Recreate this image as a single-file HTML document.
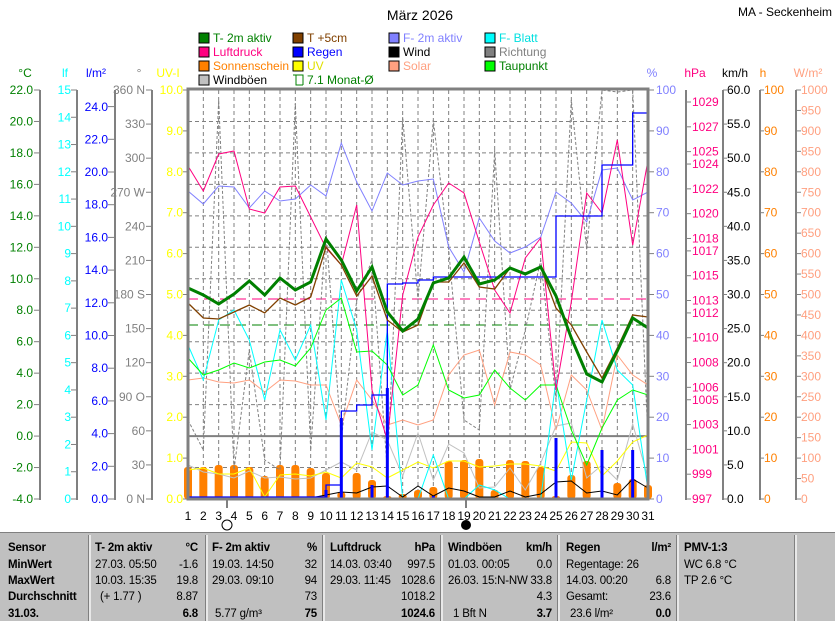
<!DOCTYPE html>
<html><head><meta charset="utf-8"><style>
body{margin:0;background:#fff;width:835px;height:620px;overflow:hidden;font-family:"Liberation Sans",sans-serif}
svg text{font-family:"Liberation Sans",sans-serif;font-size:12px}
#tbl{position:absolute;left:0;top:532px;width:835px;height:88px;background:#c0c0c0;border-top:1px solid #808080}
#tbl div{position:absolute;font-size:11.5px;letter-spacing:-0.2px;white-space:nowrap;line-height:16px}
.b{font-weight:bold}
.sep{position:absolute;top:2px;width:2px;height:86px;background:#e8e8e8;border-left:1px solid #808080}
</style></head><body>
<svg id="s" width="835" height="532" style="position:absolute;left:0;top:0">
<text x="420" y="20" text-anchor="middle" style="font-size:14px">März 2026</text>
<text x="832" y="16" text-anchor="end">MA - Seckenheim</text>
<g stroke="#000" stroke-width="1">
<rect x="199" y="33" width="10" height="10" fill="#008000"/><rect x="293" y="33" width="10" height="10" fill="#804000"/><rect x="389" y="33" width="10" height="10" fill="#8080ff"/><rect x="485" y="33" width="10" height="10" fill="#00ffff"/>
<rect x="199" y="47" width="10" height="10" fill="#ff0080"/><rect x="293" y="47" width="10" height="10" fill="#0000ff"/><rect x="389" y="47" width="10" height="10" fill="#000"/><rect x="485" y="47" width="10" height="10" fill="#808080"/>
<rect x="199" y="61" width="10" height="10" fill="#ff8000"/><rect x="293" y="61" width="10" height="10" fill="#ffff00"/><rect x="389" y="61" width="10" height="10" fill="#ffa080"/><rect x="485" y="61" width="10" height="10" fill="#00ff00"/>
<rect x="199" y="75" width="10" height="10" fill="#c0c0c0"/>
</g>
<path d="M296 75 v10 h7 M293 75 h10 v10" stroke="#008000" fill="none"/>
<text x="213" y="42" fill="#008000">T- 2m aktiv</text><text x="307" y="42" fill="#804000">T +5cm</text><text x="403" y="42" fill="#8080ff">F- 2m aktiv</text><text x="499" y="42" fill="#00e0e0">F- Blatt</text>
<text x="213" y="56" fill="#ff0080">Luftdruck</text><text x="307" y="56" fill="#0000ff">Regen</text><text x="403" y="56">Wind</text><text x="499" y="56" fill="#808080">Richtung</text>
<text x="213" y="70" fill="#ff8000">Sonnenschein</text><text x="307" y="70" fill="#e0e000">UV</text><text x="403" y="70" fill="#ffa080">Solar</text><text x="499" y="70" fill="#008000">Taupunkt</text>
<text x="213" y="84">Windböen</text><text x="307" y="84" fill="#008000">7.1 Monat-Ø</text>
<text x="25" y="77" text-anchor="middle" fill="#008000">°C</text>
<text x="65" y="77" text-anchor="middle" fill="#00ffff">lf</text>
<text x="96" y="77" text-anchor="middle" fill="#0000ff">l/m²</text>
<text x="139" y="77" text-anchor="middle" fill="#808080">°</text>
<text x="168" y="77" text-anchor="middle" fill="#ffff00">UV-I</text>
<text x="652" y="77" text-anchor="middle" fill="#8080ff">%</text>
<text x="695" y="77" text-anchor="middle" fill="#ff0080">hPa</text>
<text x="735" y="77" text-anchor="middle">km/h</text>
<text x="763" y="77" text-anchor="middle" fill="#ff8000">h</text>
<text x="808" y="77" text-anchor="middle" fill="#ffa080">W/m²</text>
<g id="grid"></g>
<g id="axes" stroke="#808080" stroke-width="2" fill="none">
<line x1="40" y1="90" x2="40" y2="500"/><line x1="77" y1="90" x2="77" y2="500"/><line x1="115" y1="90" x2="115" y2="500"/><line x1="152" y1="90" x2="152" y2="500"/>
<line x1="686" y1="90" x2="686" y2="500"/><line x1="723" y1="90" x2="723" y2="500"/><line x1="760" y1="90" x2="760" y2="500"/><line x1="796" y1="90" x2="796" y2="500"/>
</g>
<g id="ticks" stroke="#808080" stroke-width="1"></g>
<g fill="#008000" text-anchor="end">
<text x="33" y="94">22.0</text><text x="33" y="125.5">20.0</text><text x="33" y="157">18.0</text><text x="33" y="188.4">16.0</text><text x="33" y="219.8">14.0</text><text x="33" y="251.3">12.0</text><text x="33" y="282.8">10.0</text><text x="33" y="314.2">8.0</text><text x="33" y="345.7">6.0</text><text x="33" y="377.1">4.0</text><text x="33" y="408.6">2.0</text><text x="33" y="440">0.0</text><text x="33" y="471.5">-2.0</text><text x="33" y="503">-4.0</text></g>
<g fill="#00ffff" text-anchor="end">
<text x="71" y="94">15</text><text x="71" y="121.3">14</text><text x="71" y="148.5">13</text><text x="71" y="175.8">12</text><text x="71" y="203.1">11</text><text x="71" y="230.3">10</text><text x="71" y="257.6">9</text><text x="71" y="284.9">8</text><text x="71" y="312.1">7</text><text x="71" y="339.4">6</text><text x="71" y="366.7">5</text><text x="71" y="393.9">4</text><text x="71" y="421.2">3</text><text x="71" y="448.5">2</text><text x="71" y="475.7">1</text><text x="71" y="503">0</text></g>
<g fill="#0000ff" text-anchor="end">
<text x="108" y="111">24.0</text><text x="108" y="143.3">22.0</text><text x="108" y="176">20.0</text><text x="108" y="208.7">18.0</text><text x="108" y="241.4">16.0</text><text x="108" y="274.1">14.0</text><text x="108" y="306.8">12.0</text><text x="108" y="339.5">10.0</text><text x="108" y="372.2">8.0</text><text x="108" y="404.9">6.0</text><text x="108" y="437.6">4.0</text><text x="108" y="470.3">2.0</text><text x="108" y="503">0.0</text></g>
<g fill="#808080" text-anchor="end">
<text x="145" y="94">360 N</text><text x="145" y="128.1">330</text><text x="145" y="162.2">300</text><text x="145" y="196.3">270 W</text><text x="145" y="230.3">240</text><text x="145" y="264.4">210</text><text x="145" y="298.5">180 S</text><text x="145" y="332.6">150</text><text x="145" y="366.7">120</text><text x="145" y="400.8">90 O</text><text x="145" y="434.8">60</text><text x="145" y="468.9">30</text><text x="145" y="503">0 N</text></g>
<g fill="#ffff00" text-anchor="end">
<text x="183" y="94">10.0</text><text x="183" y="134.9">9.0</text><text x="183" y="175.8">8.0</text><text x="183" y="216.7">7.0</text><text x="183" y="257.6">6.0</text><text x="183" y="298.5">5.0</text><text x="183" y="339.4">4.0</text><text x="183" y="380.3">3.0</text><text x="183" y="421.2">2.0</text><text x="183" y="462.1">1.0</text><text x="183" y="503">0.0</text></g>
<g fill="#8080ff">
<text x="656" y="94">100</text><text x="656" y="134.9">90</text><text x="656" y="175.8">80</text><text x="656" y="216.7">70</text><text x="656" y="257.6">60</text><text x="656" y="298.5">50</text><text x="656" y="339.4">40</text><text x="656" y="380.3">30</text><text x="656" y="421.2">20</text><text x="656" y="462.1">10</text><text x="656" y="503">0</text></g>
<g fill="#ff0080">
<text x="692" y="106">1029</text><text x="692" y="130.8">1027</text><text x="692" y="155.6">1025</text><text x="692" y="168">1024</text><text x="692" y="192.9">1022</text><text x="692" y="217.7">1020</text><text x="692" y="242.5">1018</text><text x="692" y="254.9">1017</text><text x="692" y="279.7">1015</text><text x="692" y="304.5">1013</text><text x="692" y="316.9">1012</text><text x="692" y="341.7">1010</text><text x="692" y="366.5">1008</text><text x="692" y="391.3">1006</text><text x="692" y="403.8">1005</text><text x="692" y="428.6">1003</text><text x="692" y="453.4">1001</text><text x="692" y="478.2">999</text><text x="692" y="503">997</text></g>
<g fill="#000">
<text x="727" y="94">60.0</text><text x="727" y="128.1">55.0</text><text x="727" y="162.2">50.0</text><text x="727" y="196.3">45.0</text><text x="727" y="230.3">40.0</text><text x="727" y="264.4">35.0</text><text x="727" y="298.5">30.0</text><text x="727" y="332.6">25.0</text><text x="727" y="366.7">20.0</text><text x="727" y="400.8">15.0</text><text x="727" y="434.8">10.0</text><text x="727" y="468.9">5.0</text><text x="727" y="503">0.0</text></g>
<g fill="#ff8000">
<text x="764" y="94">100</text><text x="764" y="134.9">90</text><text x="764" y="175.8">80</text><text x="764" y="216.7">70</text><text x="764" y="257.6">60</text><text x="764" y="298.5">50</text><text x="764" y="339.4">40</text><text x="764" y="380.3">30</text><text x="764" y="421.2">20</text><text x="764" y="462.1">10</text><text x="764" y="503">0</text></g>
<g fill="#ffa080">
<text x="801" y="94">1000</text><text x="801" y="114.5">950</text><text x="801" y="134.9">900</text><text x="801" y="155.4">850</text><text x="801" y="175.8">800</text><text x="801" y="196.3">750</text><text x="801" y="216.7">700</text><text x="801" y="237.2">650</text><text x="801" y="257.6">600</text><text x="801" y="278.1">550</text><text x="801" y="298.5">500</text><text x="801" y="319">450</text><text x="801" y="339.4">400</text><text x="801" y="359.9">350</text><text x="801" y="380.3">300</text><text x="801" y="400.8">250</text><text x="801" y="421.2">200</text><text x="801" y="441.7">150</text><text x="801" y="462.1">100</text><text x="801" y="482.6">50</text><text x="801" y="503">0</text></g>
<g text-anchor="middle">
<text x="188" y="520">1</text><text x="203.3" y="520">2</text><text x="218.7" y="520">3</text><text x="234" y="520">4</text><text x="249.3" y="520">5</text><text x="264.7" y="520">6</text><text x="280" y="520">7</text><text x="295.3" y="520">8</text><text x="310.7" y="520">9</text><text x="326" y="520">10</text><text x="341.3" y="520">11</text><text x="356.7" y="520">12</text><text x="372" y="520">13</text><text x="387.3" y="520">14</text><text x="402.7" y="520">15</text><text x="418" y="520">16</text><text x="433.3" y="520">17</text><text x="448.7" y="520">18</text><text x="464" y="520">19</text><text x="479.3" y="520">20</text><text x="494.7" y="520">21</text><text x="510" y="520">22</text><text x="525.3" y="520">23</text><text x="540.7" y="520">24</text><text x="556" y="520">25</text><text x="571.3" y="520">26</text><text x="586.7" y="520">27</text><text x="602" y="520">28</text><text x="617.3" y="520">29</text><text x="632.7" y="520">30</text><text x="648" y="520">31</text></g>
<line x1="227" y1="500" x2="227" y2="508" stroke="#000"/><circle cx="227" cy="525" r="5" fill="#fff" stroke="#000"/>
<line x1="466" y1="500" x2="466" y2="508" stroke="#000"/><circle cx="466" cy="525" r="5" fill="#000"/>
<g id="data"></g>
<rect x="188" y="89" width="460" height="410" fill="none" stroke="#808080" stroke-width="3"/>
</svg>
<div id="tbl">
<div class="sep" style="left:88px"></div><div class="sep" style="left:205px"></div><div class="sep" style="left:322px"></div><div class="sep" style="left:440px"></div><div class="sep" style="left:557px"></div><div class="sep" style="left:676px"></div><div class="sep" style="left:794px"></div>
<div class="b" style="left:8px;top:7px">Sensor</div><div class="b" style="left:8px;top:24px">MinWert</div><div class="b" style="left:8px;top:40px">MaxWert</div><div class="b" style="left:8px;top:56px">Durchschnitt</div><div class="b" style="left:8px;top:73px">31.03.</div>
<div class="b" style="left:95px;top:7px">T- 2m aktiv</div><div class="b" style="right:637px;top:7px">°C</div>
<div style="left:95px;top:24px">27.03. 05:50</div><div style="right:637px;top:24px">-1.6</div>
<div style="left:95px;top:40px">10.03. 15:35</div><div style="right:637px;top:40px">19.8</div>
<div style="left:100px;top:56px">(+ 1.77 )</div><div style="right:637px;top:56px">8.87</div>
<div class="b" style="right:637px;top:73px">6.8</div>
<div class="b" style="left:212px;top:7px">F- 2m aktiv</div><div class="b" style="right:518px;top:7px">%</div>
<div style="left:212px;top:24px">19.03. 14:50</div><div style="right:518px;top:24px">32</div>
<div style="left:212px;top:40px">29.03. 09:10</div><div style="right:518px;top:40px">94</div>
<div style="right:518px;top:56px">73</div>
<div style="left:215px;top:73px">5.77 g/m³</div><div class="b" style="right:518px;top:73px">75</div>
<div class="b" style="left:330px;top:7px">Luftdruck</div><div class="b" style="right:400px;top:7px">hPa</div>
<div style="left:330px;top:24px">14.03. 03:40</div><div style="right:400px;top:24px">997.5</div>
<div style="left:330px;top:40px">29.03. 11:45</div><div style="right:400px;top:40px">1028.6</div>
<div style="right:400px;top:56px">1018.2</div>
<div class="b" style="right:400px;top:73px">1024.6</div>
<div class="b" style="left:448px;top:7px">Windböen</div><div class="b" style="right:283px;top:7px">km/h</div>
<div style="left:448px;top:24px">01.03. 00:05</div><div style="right:283px;top:24px">0.0</div>
<div style="left:448px;top:40px">26.03. 15:N-NW</div><div style="right:283px;top:40px">33.8</div>
<div style="right:283px;top:56px">4.3</div>
<div style="left:453px;top:73px">1 Bft N</div><div class="b" style="right:283px;top:73px">3.7</div>
<div class="b" style="left:566px;top:7px">Regen</div><div class="b" style="right:164px;top:7px">l/m²</div>
<div style="left:566px;top:24px">Regentage: 26</div>
<div style="left:566px;top:40px">14.03. 00:20</div><div style="right:164px;top:40px">6.8</div>
<div style="left:566px;top:56px">Gesamt:</div><div style="right:164px;top:56px">23.6</div>
<div style="left:570px;top:73px">23.6 l/m²</div><div class="b" style="right:164px;top:73px">0.0</div>
<div class="b" style="left:684px;top:7px">PMV-1:3</div>
<div style="left:684px;top:24px">WC 6.8 °C</div>
<div style="left:684px;top:40px">TP 2.6 °C</div>
</div>
<script>
var NS="http://www.w3.org/2000/svg";
function el(p,n,a){var e=document.createElementNS(NS,n);for(var k in a)e.setAttribute(k,a[k]);p.appendChild(e);return e;}
var X=[];for(var i=0;i<31;i++)X.push(188+i*460/30);
var g=document.getElementById('grid');
for(var i=1;i<31;i++)el(g,'line',{x1:X[i],y1:90,x2:X[i],y2:499,stroke:'#808080','stroke-dasharray':'4,3'});
for(var k=1;k<13;k++){var y=90+k*409/13;if(k==11)el(g,'line',{x1:188,y1:y,x2:648,y2:y,stroke:'#808080','stroke-width':2});else el(g,'line',{x1:188,y1:y,x2:648,y2:y,stroke:'#808080','stroke-dasharray':'4,3'});}
var t=document.getElementById('ticks');
function ticks(x,dx,ys){ys.forEach(function(y){el(t,'line',{x1:x,y1:y,x2:x+dx,y2:y});});}
function rng(a,b,n){var r=[];for(var i=0;i<n;i++)r.push(a+(b-a)*i/(n-1));return r;}
ticks(40,-6,rng(90,499,14));ticks(77,-6,rng(90,499,16));ticks(115,-7,rng(106.6,499,13));ticks(152,-6,rng(90,499,13));ticks(188,-5,rng(90,499,11));
ticks(648,6,rng(90,499,11));
[1029,1027,1025,1024,1022,1020,1018,1017,1015,1013,1012,1010,1008,1006,1005,1003,1001,999,997].forEach(function(p){var y=499-(p-997)*12.406;el(t,'line',{x1:686,y1:y,x2:691,y2:y});});
ticks(723,4,rng(90,499,13));ticks(760,4,rng(90,499,11));ticks(796,5,rng(90,499,21));
var d=document.getElementById('data');
function line(ys,c,w,da){var p=ys.map(function(y,i){return X[i].toFixed(1)+','+y}).join(' ');var a={points:p,fill:'none',stroke:c,'stroke-width':w||1};if(da)a['stroke-dasharray']=da;el(d,'polyline',a);}
el(d,'line',{x1:188,y1:299,x2:648,y2:299,stroke:'#ff0080','stroke-dasharray':'10,6'});
el(d,'line',{x1:188,y1:325,x2:648,y2:325,stroke:'#008000','stroke-dasharray':'10,6'});
var sun=[467,467,465,465,467,476,465,465,468,473,492,473,480,496,494,490,487,461,460,459,490,460,461,467,496,475,461,499,483,479,485];
sun.forEach(function(y,i){el(d,'rect',{x:X[i]-4,y:y,width:8,height:499-y,rx:3,fill:'#ff8000'});});
line([420,450,100,470,350,460,470,103,450,230,440,300,260,470,117,300,120,250,420,430,150,390,330,260,400,100,250,90,92,90,440],'#808080',1,'3,2');
line([380,378,382,383,380,392,380,381,385,385,425,380,400,425,420,425,420,375,355,350,405,352,355,365,430,375,390,430,355,375,385],'#ffa080');
line([465,472,474,478,471,478,477,479,478,470,462,470,432,440,476,433,480,444,453,488,487,468,490,463,426,423,478,465,480,424,478],'#c0c0c0');
line([470,468,474,474,468,497,475,474,476,472,478,463,467,478,470,462,468,461,461,467,466,464,464,466,471,442,443,476,461,442,435],'#ffff00');
line([345,380,320,310,340,400,330,360,325,420,280,330,450,330,499,499,455,499,499,485,490,499,499,499,380,480,400,320,370,385,490],'#00ffff');
line([358,375,370,363,368,362,360,366,348,310,298,352,351,365,395,385,345,390,398,395,370,388,400,385,385,430,465,428,400,390,395],'#00ff00');
line([497,497,498,498,498,498,498,498,498,495,492,493,487,486,497,486,496,488,491,497,497,491,497,494,482,481,493,491,495,479,488],'#000');
line([191,204,186,187,208,191,201,199,185,196,143,182,211,173,185,181,179,247,272,218,241,253,247,237,192,203,222,170,168,200,192],'#8080ff');
line([166,191,154,151,209,213,187,186,217,248,265,205,390,440,295,237,205,183,193,242,290,313,258,238,390,302,193,213,140,245,160],'#ff0080');
[[9,490],[10,418],[12,485],[13,388],[16,496],[24,438],[27,450],[29,450]].forEach(function(a){el(d,'line',{x1:X[a[0]],y1:499,x2:X[a[0]],y2:a[1],stroke:'#0000ff','stroke-width':3});});
var rc=[497,497,497,497,497,497,497,497,497,485,411,405,395,284,283,280,277,277,277,277,277,277,277,277,216,216,216,165,165,113,113];
var pts=[];rc.forEach(function(y,i){if(i>0)pts.push(X[i]+','+rc[i-1]);pts.push(X[i]+','+y);});
el(d,'polyline',{points:pts.join(' '),fill:'none',stroke:'#0000ff','stroke-width':1.3});
line([303,318,319,312,305,313,298,305,297,247,265,296,276,320,332,325,282,282,263,287,289,268,273,267,308,325,352,378,348,315,317],'#804000',1.3);
line([288,295,304,294,281,295,278,290,282,239,260,291,267,312,331,319,283,278,257,284,280,268,274,267,296,338,374,382,351,318,328],'#008000',3);
</script>
</body></html>
